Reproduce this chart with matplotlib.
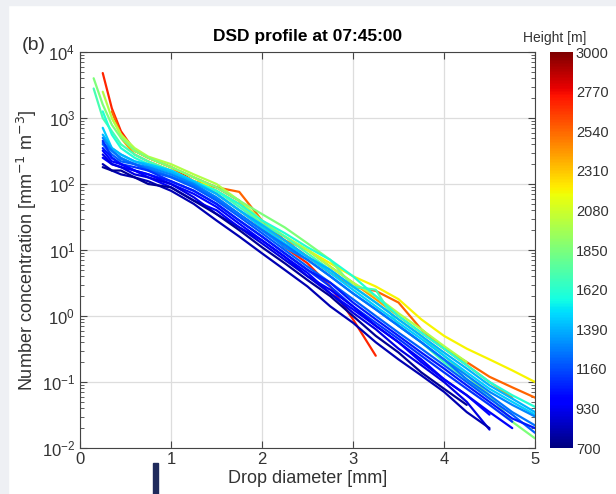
import numpy as np
import matplotlib
matplotlib.use('Agg')
import matplotlib.pyplot as plt
from matplotlib.patches import Rectangle

plt.rcParams['font.family'] = ['Liberation Sans', 'DejaVu Sans']

nan = np.nan

# drop diameter grid [mm]
diameter = [0.15, 0.25, 0.35, 0.45, 0.6, 0.75, 1.0, 1.25, 1.5, 1.75, 2.0, 2.25,
            2.5, 2.75, 3.0, 3.25, 3.5, 3.75, 4.0, 4.25, 4.5, 4.75, 5.0]

# height of each profile level [m]
heights = [2700, 2550, 2400, 2200, 2000, 1850, 1700, 1600, 1450, 1400,
           1300, 1250, 1200, 1100, 1050, 1000, 950, 900, 800, 750]

# number concentration [mm-1 m-3], one list per height
conc = [
    [nan, 4800, 1400, 630, 320, 250, 180, 110, 89, 56, 22, 11, 6.3, 2.8, 0.89, 0.25, nan, nan, nan, nan, nan, nan, nan],
    [nan, nan, 1260, 560, 320, 250, 180, 126, 89, 76, 28, 14, 7.9, 4.5, 2.8, 2.4, 1.6, 0.63, 0.32, 0.2, 0.12, 0.083, 0.058],
    [nan, nan, nan, 500, 280, 220, 160, 110, 71, 40, 22, 14, 10, 5.6, 3.2, 1.8, 1.0, 0.56, 0.32, 0.18, 0.1, 0.058, nan],
    [nan, nan, 1000, 560, 320, 250, 180, 126, 79, 50, 25, 16, 10, 6.3, 4.0, 2.8, 1.8, 0.89, 0.5, 0.32, 0.22, 0.15, 0.1],
    [nan, 2500, 1000, 560, 350, 260, 200, 140, 100, 56, 28, 16, 10, 5.6, 3.2, 2.0, 1.1, 0.63, 0.35, 0.2, nan, nan, nan],
    [4000, 1600, 790, 500, 320, 250, 180, 126, 89, 56, 35, 22, 12.6, 7.1, 2.8, 1.6, 0.89, 0.5, 0.25, 0.126, 0.063, 0.025, 0.014],
    [2800, 1000, 630, 400, 280, 220, 160, 110, 79, 45, 25, 16, 8.9, 5.0, 2.8, 2.5, 0.71, 0.4, 0.2, 0.11, 0.056, nan, nan],
    [nan, 1260, 560, 350, 250, 200, 160, 110, 79, 50, 28, 18, 11, 7.1, 4.0, 2.0, 1.0, 0.56, 0.32, 0.18, 0.1, 0.063, 0.042],
    [nan, 710, 350, 280, 220, 200, 160, 110, 71, 40, 22, 12.6, 7.9, 4.5, 2.5, 1.4, 0.79, 0.45, 0.25, 0.14, 0.079, 0.05, 0.032],
    [nan, 560, 350, 280, 220, 190, 150, 105, 71, 40, 24, 14, 7.9, 5.0, 2.8, 1.6, 0.89, 0.5, 0.28, 0.16, 0.089, 0.056, 0.035],
    [nan, 500, 320, 250, 200, 180, 140, 100, 63, 35, 20, 11, 7.1, 4.0, 2.2, 1.26, 0.71, 0.4, 0.22, 0.126, 0.071, 0.045, 0.03],
    [nan, 420, 320, 240, 200, 170, 130, 95, 60, 35, 20, 12, 7.1, 4.0, 2.2, 1.26, 0.71, 0.4, 0.22, 0.11, 0.063, 0.035, 0.022],
    [nan, 400, 280, 220, 200, 160, 126, 89, 56, 32, 18, 10, 5.6, 3.2, 1.8, 1.0, 0.56, 0.32, 0.18, 0.1, 0.056, 0.032, 0.017],
    [nan, 450, 250, 200, 180, 160, 110, 79, 50, 28, 16, 8.9, 5.0, 2.8, 1.4, 0.79, 0.45, 0.25, 0.14, 0.079, 0.045, 0.025, nan],
    [nan, 350, 250, 200, 160, 140, 110, 79, 50, 28, 16, 8.9, 5.0, 3.2, 1.6, 0.89, 0.5, 0.28, 0.16, 0.089, 0.05, 0.028, 0.02],
    [nan, 320, 220, 200, 160, 140, 100, 71, 45, 25, 14, 7.9, 4.5, 2.2, 1.26, 0.71, 0.4, 0.2, 0.11, 0.063, 0.032, nan, nan],
    [nan, 250, 200, 180, 160, 126, 89, 56, 40, 22, 14, 7.9, 4.0, 2.5, 1.4, 0.71, 0.4, 0.22, 0.11, 0.063, 0.035, 0.02, nan],
    [nan, 280, 200, 180, 140, 126, 100, 63, 35, 22, 12.6, 7.1, 4.0, 2.2, 1.12, 0.63, 0.32, 0.18, 0.1, 0.05, 0.019, nan, nan],
    [nan, 200, 160, 140, 126, 110, 79, 50, 28, 16, 8.9, 5.0, 2.8, 1.4, 0.79, 0.4, 0.22, 0.126, 0.071, 0.035, 0.02, nan, nan],
    [nan, 180, 160, 160, 126, 100, 89, 56, 35, 20, 11, 6.3, 3.5, 2.0, 1.0, 0.5, 0.28, 0.14, 0.079, 0.045, nan, nan, nan],
]

cbar_ticks = [700, 930, 1160, 1390, 1620, 1850, 2080, 2310, 2540, 2770, 3000]

txt = '#333333'
fig = plt.figure(figsize=(6.16, 4.94), dpi=100, facecolor='white')

# light grey frame of the screenshot
fig.patches.append(Rectangle((0, 0), 8 / 616, 1, transform=fig.transFigure, color='#eef0f4', zorder=0))
fig.patches.append(Rectangle((0, 1 - 5 / 494), 1, 5 / 494, transform=fig.transFigure, color='#eef0f4', zorder=0))
fig.patches.append(Rectangle((153 / 616, 0), 5 / 616, 31 / 494, transform=fig.transFigure, color='#1f2a5c', zorder=0))

ax = fig.add_axes([80 / 616, 46 / 494, 455 / 616, 396 / 494])
norm = matplotlib.colors.Normalize(vmin=700, vmax=3000)
cmap = plt.get_cmap('jet')

for h, c in zip(heights, conc):
    ax.plot(diameter, c, color=cmap(norm(h)), lw=1.6, solid_capstyle='round', solid_joinstyle='round')

ax.set_yscale('log')
ax.set_xlim(0, 5)
ax.set_ylim(1e-2, 1e4)
ax.set_xticks([0, 1, 2, 3, 4, 5])
ax.grid(True, which='major', color='#dddddd', lw=0.9)
ax.set_axisbelow(True)
ax.tick_params(which='both', direction='in', top=True, right=True, colors='#444444',
               labelcolor=txt, labelsize=12)
ax.tick_params(which='major', length=5)
ax.tick_params(which='minor', length=3)
ax.tick_params(axis='x', pad=3)
for s in ax.spines.values():
    s.set_color('#444444')

ax.set_xlabel('Drop diameter [mm]', fontsize=13, color=txt, labelpad=2)
ax.set_ylabel('Number concentration [mm$^{-1}$ m$^{-3}$]', fontsize=13, color=txt, labelpad=2)
ax.set_title('DSD profile at 07:45:00', fontsize=12.5, fontweight='bold', pad=8)
fig.text(22 / 616, 1 - 46 / 494, '(b)', fontsize=14, color=txt, va='center')

cax = fig.add_axes([550 / 616, 46 / 494, 23 / 616, 396 / 494])
sm = matplotlib.cm.ScalarMappable(norm=norm, cmap=cmap)
cb = fig.colorbar(sm, cax=cax, ticks=cbar_ticks)
cb.outline.set_visible(False)
cax.tick_params(length=0, labelsize=10.5, labelcolor=txt, pad=2)
fig.text(555 / 616, 1 - 38 / 494, 'Height [m]', fontsize=10, color=txt, ha='center', va='center')

fig.savefig('out.png', dpi=100)
